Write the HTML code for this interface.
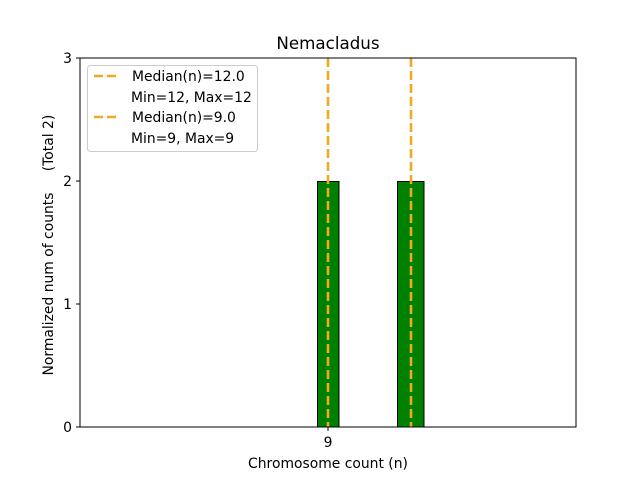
<!DOCTYPE html>
<html><head><style>body{margin:0;background:#fff}</style></head><body>
<svg width="640" height="480" viewBox="0 0 640 480" xmlns="http://www.w3.org/2000/svg" font-family="DejaVu Sans, sans-serif">
<rect width="640" height="480" fill="#fff"/>
<rect x="317.5" y="181.5" width="21.5" height="245.5" fill="#008000" stroke="#000" stroke-width="1"/>
<rect x="397.5" y="181.5" width="26.5" height="245.5" fill="#008000" stroke="#000" stroke-width="1"/>
<line x1="328" y1="58" x2="328" y2="427" stroke="#f2a91f" stroke-width="2.6" stroke-dasharray="9,4"/>
<line x1="411" y1="58" x2="411" y2="427" stroke="#f2a91f" stroke-width="2.6" stroke-dasharray="9,4"/>
<rect x="80" y="58" width="496" height="369" fill="none" stroke="#000" stroke-width="1"/>
<g stroke="#000"><line x1="76" y1="58" x2="80" y2="58"/><line x1="76" y1="181" x2="80" y2="181"/><line x1="76" y1="304" x2="80" y2="304"/><line x1="76" y1="427" x2="80" y2="427"/><line x1="328" y1="427" x2="328" y2="431"/></g>
<g font-size="13.9" fill="#000" text-anchor="end"><text x="72" y="63">3</text><text x="72" y="186">2</text><text x="72" y="309">1</text><text x="72" y="432">0</text></g>
<text x="328" y="447" font-size="13.9" text-anchor="middle">9</text>
<text x="328" y="468" font-size="13.9" text-anchor="middle">Chromosome count (n)</text>
<text x="328" y="49" font-size="16.7" text-anchor="middle">Nemacladus</text>
<text transform="translate(53,284) rotate(-90)" font-size="13.9" text-anchor="middle">Normalized num of counts</text>
<text transform="translate(53,143) rotate(-90)" font-size="13.9" text-anchor="middle">(Total 2)</text>
<rect x="87.5" y="65.5" width="170" height="86" rx="3" fill="#fff" fill-opacity="0.8" stroke="#ccc"/>
<g stroke="#f2a91f" stroke-width="2.6" stroke-dasharray="9,4"><line x1="94" y1="76" x2="120" y2="76"/><line x1="94" y1="117" x2="120" y2="117"/></g>
<g font-size="13.9"><text x="132" y="81">Median(n)=12.0</text><text x="131" y="102">Min=12, Max=12</text><text x="132" y="122">Median(n)=9.0</text><text x="131" y="143">Min=9, Max=9</text></g>
</svg>
</body></html>
